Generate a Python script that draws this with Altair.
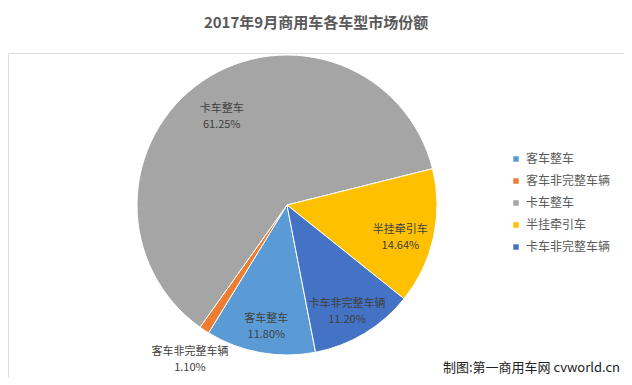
import altair as alt
import pandas as pd

categories = ["客车整车", "客车非完整车辆", "卡车整车", "半挂牵引车", "卡车非完整车辆"]
shares = [11.80, 1.10, 61.25, 14.64, 11.20]
colors = ["#5B9BD5", "#ED7D31", "#A5A5A5", "#FFC000", "#4472C4"]
order = [0, 1, 2, 3, 4]
title_text = "2017年9月商用车各车型市场份额"
footer_text = "制图:第一商用车网 cvworld.cn"

df = pd.DataFrame({"name": categories, "value": shares, "idx": order})
total = sum(shares)

FONT = "Noto Sans CJK SC"
CX, CY, R = 279, 152, 150
OFF = 2.95
TWO_PI = 6.283185307179586

theta_scale = alt.Scale(domain=[0, total], range=[OFF, OFF + TWO_PI])
color = alt.Color(
    "name:N",
    scale=alt.Scale(domain=categories, range=colors),
    legend=alt.Legend(
        title=None, orient="none", legendX=502, legendY=100,
        symbolType="square", symbolSize=30, labelFont=FONT, labelFontSize=12,
        labelColor="#595959", rowPadding=10, symbolStrokeWidth=0,
    ),
)

arcs = alt.Chart(df).mark_arc(outerRadius=R, stroke="white", strokeWidth=1).encode(
    theta=alt.Theta("value:Q", stack=True, scale=theta_scale),
    order=alt.Order("idx:Q"),
    color=color, x=alt.value(CX), y=alt.value(CY),
)

labels = alt.Chart(df).transform_window(
    cum="sum(value)", sort=[alt.SortField("idx", order="ascending")]
).transform_calculate(
    mid="datum.cum - datum.value / 2",
    label="datum.name + '\\n' + format(datum.value, '.2f') + '%'",
    rad="datum.value < 5 ? 176 : 116",
).mark_text(font=FONT, fontSize=11, color="#404040", lineBreak="\n", lineHeight=16).encode(
    theta=alt.Theta("mid:Q", stack=None, scale=theta_scale),
    text="label:N", radius=alt.Radius("rad:Q", scale=None),
    x=alt.value(CX), y=alt.value(CY),
)

footer = alt.Chart(pd.DataFrame({"t": [footer_text]})).mark_text(
    font=FONT, fontSize=13, color="#222222", align="right", baseline="bottom"
).encode(text="t:N", x=alt.value(612), y=alt.value(322))

chart = alt.layer(arcs, labels, footer).properties(
    width=616, height=324,
    padding={"top": 45, "left": 0, "right": 0, "bottom": 0},
    autosize="none",
    title=alt.Title(title_text, font=FONT, fontSize=15, fontWeight="bold", color="#595959",
                    anchor="middle", offset=22),
).configure_view(stroke="transparent", strokeWidth=0).configure(background="white")

chart.save("out.html", embed_options={"renderer": "svg", "actions": False})
